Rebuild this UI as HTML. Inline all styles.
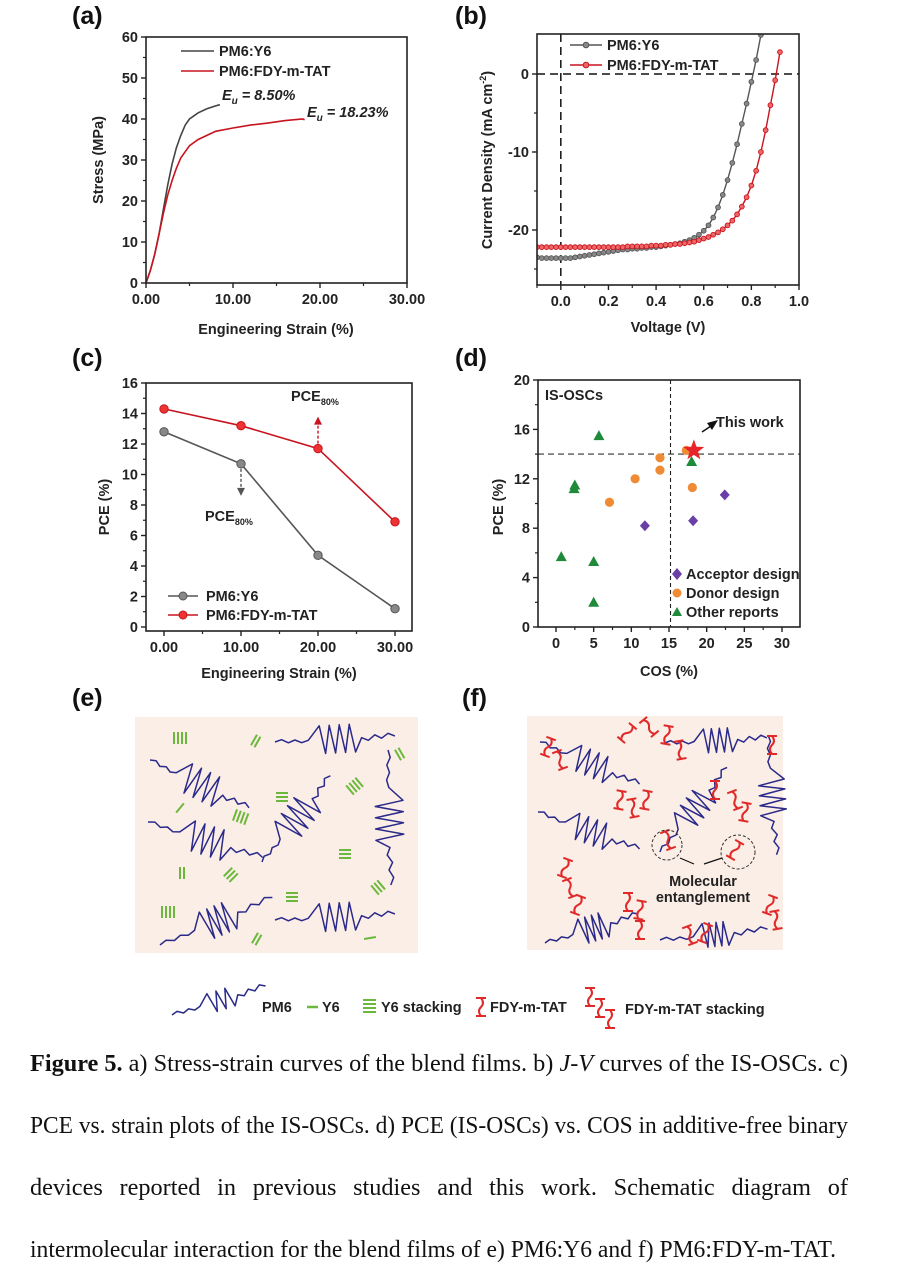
<!DOCTYPE html>
<html><head><meta charset="utf-8">
<style>
html,body{margin:0;padding:0;background:#fff;}
svg{display:block;font-family:"Liberation Sans",Arial,sans-serif;}
.tk{font-weight:bold;font-size:14.5px;fill:#222;}
.at{font-weight:bold;font-size:14.5px;fill:#222;}
.pl{font-weight:bold;font-size:25px;fill:#111;}
.cap{font-family:"Liberation Serif",serif;font-size:24px;fill:#111;}
</style></head>
<body>
<svg id="fig" width="915" height="1285" viewBox="0 0 915 1285" xmlns="http://www.w3.org/2000/svg">
<rect width="915" height="1285" fill="#fff"/>
</svg>
<script>
// ---------- DATA ----------
const aStrainY6 = [0,0.5,1,1.5,2,2.5,3,3.5,4,4.5,5,6,7,8,8.5];
const aStressY6 = [0,3,7,12,18,24,29,33,36,38.5,40,41.5,42.5,43.2,43.5];
const aStrainFDY = [0,0.5,1,1.5,2,2.5,3,3.5,4,5,6,7,8,10,12,14,16,18,18.23];
const aStressFDY = [0,3,7,12,17,21.5,25,28,30.5,33.5,35,36,37,37.8,38.5,39,39.6,40,39.8];
const aXTicks = ["0.00","10.00","20.00","30.00"];
const aYTicks = [0,10,20,30,40,50,60];
const bVY6 = [-0.10,-0.08,-0.06,-0.04,-0.02,0,0.02,0.04,0.06,0.08,0.10,0.12,0.14,0.16,0.18,0.20,0.22,0.24,0.26,0.28,0.30,0.32,0.34,0.36,0.38,0.40,0.42,0.44,0.46,0.48,0.50,0.52,0.54,0.56,0.58,0.60,0.62,0.64,0.66,0.68,0.70,0.72,0.74,0.76,0.78,0.80,0.82,0.84];
const bJY6 = [-23.5,-23.6,-23.6,-23.6,-23.6,-23.6,-23.6,-23.6,-23.5,-23.4,-23.3,-23.2,-23.1,-23.0,-22.9,-22.8,-22.7,-22.6,-22.5,-22.5,-22.4,-22.4,-22.3,-22.3,-22.2,-22.2,-22.1,-22.0,-21.9,-21.8,-21.7,-21.5,-21.3,-21.0,-20.6,-20.1,-19.4,-18.4,-17.1,-15.5,-13.6,-11.4,-9.0,-6.4,-3.8,-1.0,1.8,5.0];
const bVFDY = [-0.10,-0.08,-0.06,-0.04,-0.02,0,0.02,0.04,0.06,0.08,0.10,0.12,0.14,0.16,0.18,0.20,0.22,0.24,0.26,0.28,0.30,0.32,0.34,0.36,0.38,0.40,0.42,0.44,0.46,0.48,0.50,0.52,0.54,0.56,0.58,0.60,0.62,0.64,0.66,0.68,0.70,0.72,0.74,0.76,0.78,0.80,0.82,0.84,0.86,0.88,0.90,0.92];
const bJFDY = [-22.2,-22.2,-22.2,-22.2,-22.2,-22.2,-22.2,-22.2,-22.2,-22.2,-22.2,-22.2,-22.2,-22.2,-22.2,-22.2,-22.2,-22.2,-22.2,-22.1,-22.1,-22.1,-22.1,-22.1,-22.0,-22.0,-22.0,-21.9,-21.9,-21.8,-21.8,-21.7,-21.6,-21.5,-21.3,-21.1,-20.9,-20.6,-20.3,-19.9,-19.4,-18.8,-18.0,-17.0,-15.8,-14.3,-12.4,-10.0,-7.2,-4.0,-0.8,2.8];
const bXTicks = [0.0,0.2,0.4,0.6,0.8,1.0];
const bYTicks = [0,-10,-20];
const cStrain = [0,10,20,30];
const cPCEY6 = [12.8,10.7,4.7,1.2];
const cPCEFDY = [14.3,13.2,11.7,6.9];
const cYTicks = [0,2,4,6,8,10,12,14,16];
const cXTicks = ["0.00","10.00","20.00","30.00"];
const dAccCOS = [11.8,18.2,22.4];
const dAccPCE = [8.2,8.6,10.7];
const dDonCOS = [7.1,10.5,13.8,13.8,17.3,18.1];
const dDonPCE = [10.1,12.0,12.7,13.7,14.3,11.3];
const dOthCOS = [0.7,2.4,2.5,5,5,5.7,18];
const dOthPCE = [5.7,11.2,11.5,5.3,2.0,15.5,13.4];
const dThisCOS = [18.3];
const dThisPCE = [14.3];
const dXTicks = [0,5,10,15,20,25,30];
const dYTicks = [0,4,8,12,16,20];

// ---------- HELPERS ----------
const NS="http://www.w3.org/2000/svg";
const svg=document.getElementById('fig');
function mk(tag,attrs,parent){const e=document.createElementNS(NS,tag);for(const k in attrs)e.setAttribute(k,attrs[k]);(parent||svg).appendChild(e);return e;}
function txt(x,y,s,cls,extra,parent){const t=mk('text',Object.assign({x:x,y:y,class:cls},extra||{}),parent);t.textContent=s;return t;}
function lin(d0,d1,r0,r1){return v=>r0+(v-d0)/(d1-d0)*(r1-r0);}
function frame(g,b){
  const r=mk('rect',{x:b.x0,y:b.y0,width:b.x1-b.x0,height:b.y1-b.y0,fill:'none',stroke:'#222','stroke-width':1.6},g);
  
  
}
function xTicks(g,b,sx,vals,labels,minor){
  vals.forEach((v,i)=>{const x=sx(v);
    const t=mk('line',{x1:x,x2:x,y1:b.y1,y2:b.y1+5,stroke:'#222','stroke-width':1.4},g);
    
    
    const l=txt(x,b.y1+21,labels[i],'tk',{'text-anchor':'middle'},g);
    
    
  });
  (minor||[]).forEach(v=>{const x=sx(v);mk('line',{x1:x,x2:x,y1:b.y1,y2:b.y1+3,stroke:'#222','stroke-width':1.2},g);});
}
function yTicks(g,b,sy,vals,labels,minor){
  vals.forEach((v,i)=>{const y=sy(v);
    const t=mk('line',{x1:b.x0-5,x2:b.x0,y1:y,y2:y,stroke:'#222','stroke-width':1.4},g);
    
    
    const l=txt(b.x0-8,y+5,labels[i],'tk',{'text-anchor':'end'},g);
    
    
  });
  (minor||[]).forEach(v=>{const y=sy(v);mk('line',{x1:b.x0-3,x2:b.x0,y1:y,y2:y,stroke:'#222','stroke-width':1.2},g);});
}
function pathOf(xs,ys,sx,sy){return xs.map((v,i)=>(i?'L':'M')+sx(v).toFixed(1)+','+sy(ys[i]).toFixed(1)).join('');}

// ---------- PANEL A ----------
(function(){
  const g=mk('g',{});
  
  
  const b={x0:146,y0:37,x1:407,y1:283};
  const sx=lin(0,30,146,407), sy=lin(0,60,283,37);
  const pl=txt(72,24,'(a)','pl',{},g);
  
  
  xTicks(g,b,sx,[0,10,20,30],aXTicks,[5,15,25]);
  yTicks(g,b,sy,aYTicks,aYTicks.map(String),[5,15,25,35,45,55]);
  const p1=mk('path',{d:pathOf(aStrainY6,aStressY6,sx,sy),fill:'none',stroke:'#444','stroke-width':1.6},g);
  
  
  const p2=mk('path',{d:pathOf(aStrainFDY,aStressFDY,sx,sy),fill:'none',stroke:'#c8141e','stroke-width':1.6},g);
  
  
  frame(g,b);
  mk('line',{x1:181,x2:214,y1:51,y2:51,stroke:'#444','stroke-width':1.6},g);
  let l=txt(219,56,'PM6:Y6','tk',{},g);
  
  
  mk('line',{x1:181,x2:214,y1:71,y2:71,stroke:'#c8141e','stroke-width':1.6},g);
  l=txt(219,76,'PM6:FDY-m-TAT','tk',{},g);
  
  
  l=txt(222,100,'','tk',{'font-style':'italic',fill:'#666'},g);
  l.innerHTML='E<tspan font-size="10" dy="4">u</tspan><tspan dy="-4"> = 8.50%</tspan>';
  
  
  l=txt(307,117,'','tk',{'font-style':'italic',fill:'#c8141e'},g);
  l.innerHTML='E<tspan font-size="10" dy="4">u</tspan><tspan dy="-4"> = 18.23%</tspan>';
  
  
  l=txt(0,0,'Stress (MPa)','at',{transform:'translate(103,160) rotate(-90)','text-anchor':'middle'},g);
  
  
  l=txt(276,334,'Engineering Strain (%)','at',{'text-anchor':'middle'},g);
  
  
})();

// ---------- PANEL B ----------
(function(){
  const g=mk('g',{});
  
  
  const b={x0:537,y0:34,x1:799,y1:285};
  const sx=lin(-0.1,1.0,537,799), sy=lin(0,-20,74,230);
  const pl=txt(455,24,'(b)','pl',{},g);
  
  
  xTicks(g,b,sx,bXTicks,bXTicks.map(v=>v.toFixed(1)),[-0.1,0.1,0.3,0.5,0.7,0.9]);
  yTicks(g,b,sy,bYTicks,bYTicks.map(String),[-5,-15,-25]);
  mk('line',{x1:sx(0),x2:sx(0),y1:b.y0,y2:b.y1,stroke:'#111','stroke-width':1.5,'stroke-dasharray':'8,5'},g);
  mk('line',{x1:b.x0,x2:b.x1,y1:sy(0),y2:sy(0),stroke:'#111','stroke-width':1.5,'stroke-dasharray':'8,5'},g);
  const clip=mk('clipPath',{id:'clipb'},g);
  mk('rect',{x:b.x0,y:b.y0,width:b.x1-b.x0,height:b.y1-b.y0},clip);
  const cg=mk('g',{'clip-path':'url(#clipb)'},g);
  [[bVY6,bJY6,'#555','#888','pm6-y6'],[bVFDY,bJFDY,'#c8141e','#e66','pm6-fdy-m-tat']].forEach(s=>{
    const p=mk('path',{d:pathOf(s[0],s[1],sx,sy),fill:'none',stroke:s[2],'stroke-width':1.4},cg);
    
    
    s[0].forEach((v,i)=>{
      const c=mk('circle',{cx:sx(v),cy:sy(s[1][i]),r:2.4,fill:s[3],stroke:s[2],'stroke-width':0.9},cg);
      
      
    });
  });
  frame(g,b);
  mk('line',{x1:570,x2:602,y1:45,y2:45,stroke:'#555','stroke-width':1.5},g);
  mk('circle',{cx:586,cy:45,r:2.8,fill:'#888',stroke:'#555'},g);
  let l=txt(607,50,'PM6:Y6','tk',{},g);
  
  
  mk('line',{x1:570,x2:602,y1:65,y2:65,stroke:'#c8141e','stroke-width':1.5},g);
  mk('circle',{cx:586,cy:65,r:2.8,fill:'#e66',stroke:'#c8141e'},g);
  l=txt(607,70,'PM6:FDY-m-TAT','tk',{},g);
  
  
  l=txt(0,0,'','at',{transform:'translate(492,160) rotate(-90)','text-anchor':'middle'},g);
  l.innerHTML='Current Density (mA cm<tspan font-size="9" dy="-6">-2</tspan><tspan dy="6">)</tspan>';
  
  
  l=txt(668,332,'Voltage (V)','at',{'text-anchor':'middle'},g);
  
  
})();

// ---------- PANEL C ----------
(function(){
  const g=mk('g',{});
  
  
  const b={x0:146,y0:383,x1:412,y1:631};
  const sx=lin(0,30,164,395), sy=lin(0,16,627,383);
  const pl=txt(72,366,'(c)','pl',{},g);
  
  
  xTicks(g,b,sx,cStrain,cXTicks,[5,15,25]);
  yTicks(g,b,sy,cYTicks,cYTicks.map(String),[1,3,5,7,9,11,13,15]);
  [[cPCEY6,'#555','#888','pm6-y6'],[cPCEFDY,'#c8141e','#e33','pm6-fdy-m-tat']].forEach(s=>{
    const p=mk('path',{d:pathOf(cStrain,s[0],sx,sy),fill:'none',stroke:s[1],'stroke-width':1.6},g);
    
    
    cStrain.forEach((v,i)=>{
      const c=mk('circle',{cx:sx(v),cy:sy(s[0][i]),r:4.2,fill:s[2],stroke:s[1],'stroke-width':1},g);
      
      
    });
  });
  const ax1=sx(10), ax2=sx(20);
  mk('line',{x1:ax1,x2:ax1,y1:sy(cPCEY6[1])+5,y2:sy(cPCEY6[1])+26,stroke:'#555','stroke-width':1.4,'stroke-dasharray':'3,2'},g);
  mk('path',{d:`M${ax1-4},${sy(cPCEY6[1])+24}L${ax1+4},${sy(cPCEY6[1])+24}L${ax1},${sy(cPCEY6[1])+32}Z`,fill:'#555'},g);
  mk('line',{x1:ax2,x2:ax2,y1:sy(cPCEFDY[2])-5,y2:sy(cPCEFDY[2])-26,stroke:'#c8141e','stroke-width':1.4,'stroke-dasharray':'3,2'},g);
  mk('path',{d:`M${ax2-4},${sy(cPCEFDY[2])-24}L${ax2+4},${sy(cPCEFDY[2])-24}L${ax2},${sy(cPCEFDY[2])-32}Z`,fill:'#c8141e'},g);
  let l=txt(205,521,'','tk',{fill:'#666'},g);
  l.innerHTML='PCE<tspan font-size="9" dy="4">80%</tspan>';
  
  
  l=txt(291,401,'','tk',{fill:'#c8141e'},g);
  l.innerHTML='PCE<tspan font-size="9" dy="4">80%</tspan>';
  
  
  frame(g,b);
  mk('line',{x1:168,x2:198,y1:596,y2:596,stroke:'#555','stroke-width':1.6},g);
  mk('circle',{cx:183,cy:596,r:4,fill:'#888',stroke:'#555'},g);
  l=txt(206,601,'PM6:Y6','tk',{},g);
  
  
  mk('line',{x1:168,x2:198,y1:615,y2:615,stroke:'#c8141e','stroke-width':1.6},g);
  mk('circle',{cx:183,cy:615,r:4,fill:'#e33',stroke:'#c8141e'},g);
  l=txt(206,620,'PM6:FDY-m-TAT','tk',{},g);
  
  
  l=txt(0,0,'PCE (%)','at',{transform:'translate(109,507) rotate(-90)','text-anchor':'middle'},g);
  
  
  l=txt(279,678,'Engineering Strain (%)','at',{'text-anchor':'middle'},g);
  
  
})();

// ---------- PANEL D ----------
(function(){
  const g=mk('g',{});
  
  
  const b={x0:538,y0:380,x1:800,y1:627};
  const sx=lin(0,30,556,782), sy=lin(0,20,627,380);
  const pl=txt(455,366,'(d)','pl',{},g);
  
  
  xTicks(g,b,sx,dXTicks,dXTicks.map(String),[2.5,7.5,12.5,17.5,22.5,27.5]);
  yTicks(g,b,sy,dYTicks,dYTicks.map(String),[2,6,10,14,18]);
  mk('line',{x1:sx(15.2),x2:sx(15.2),y1:b.y0,y2:b.y1,stroke:'#222','stroke-width':1.1,'stroke-dasharray':'4,3'},g);
  mk('line',{x1:b.x0,x2:b.x1,y1:sy(14),y2:sy(14),stroke:'#333','stroke-width':1.1,'stroke-dasharray':'6,4'},g);
  dDonCOS.forEach((v,i)=>{
    const c=mk('circle',{cx:sx(v),cy:sy(dDonPCE[i]),r:4.6,fill:'#ef8a35'},g);
    
    
  });
  dAccCOS.forEach((v,i)=>{
    const x=sx(v),y=sy(dAccPCE[i]);
    const c=mk('path',{d:`M${x},${y-5.5}L${x+5},${y}L${x},${y+5.5}L${x-5},${y}Z`,fill:'#6a3fa8'},g);
    
    
  });
  dOthCOS.forEach((v,i)=>{
    const x=sx(v),y=sy(dOthPCE[i]);
    const c=mk('path',{d:`M${x},${y-5.5}L${x+5.5},${y+4.5}L${x-5.5},${y+4.5}Z`,fill:'#1e8a3a'},g);
    
    
  });
  dThisCOS.forEach((v,i)=>{
    const x=sx(v),y=sy(dThisPCE[i]);let d='';
    for(let k=0;k<10;k++){const r=k%2?4.5:11;const a=-Math.PI/2+k*Math.PI/5;d+=(k?'L':'M')+(x+r*Math.cos(a)).toFixed(1)+','+(y+r*Math.sin(a)).toFixed(1);}
    const s=mk('path',{d:d+'Z',fill:'#e8232a'},g);
    
    
  });
  mk('line',{x1:702,x2:711,y1:432,y2:426,stroke:'#111','stroke-width':1.5},g);
  mk('path',{d:'M718,420L707,423L712,430Z',fill:'#111'},g);
  let l=txt(716,427,'This work','tk',{},g);
  
  
  l=txt(545,400,'IS-OSCs','tk',{},g);
  
  
  mk('path',{d:'M677,568L682,574L677,580L672,574Z',fill:'#6a3fa8'},g);
  l=txt(686,579,'Acceptor design','tk',{'font-size':'13.5'},g);
  
  
  mk('circle',{cx:677,cy:593,r:4.5,fill:'#ef8a35'},g);
  l=txt(686,598,'Donor design','tk',{'font-size':'13.5'},g);
  
  
  mk('path',{d:'M677,607L682,616L672,616Z',fill:'#1e8a3a'},g);
  l=txt(686,617,'Other reports','tk',{'font-size':'13.5'},g);
  
  
  frame(g,b);
  l=txt(0,0,'PCE (%)','at',{transform:'translate(503,507) rotate(-90)','text-anchor':'middle'},g);
  
  
  l=txt(669,676,'COS (%)','at',{'text-anchor':'middle'},g);
  
  
})();

// ---------- SCHEMATICS E/F ----------
function chain(g,x,y,ang,n,w,amp,tail){
  const pts=[];let t=0;
  const wig=[0,-2,1.5,-1,2,0];
  for(let i=0;i<wig.length;i++){pts.push([t,wig[i]]);t+=tail/wig.length;}
  for(let i=0;i<n*2;i++){t+=w/(n*2);pts.push([t,i%2?amp:-amp]);}
  for(let i=0;i<wig.length;i++){t+=tail/wig.length;pts.push([t,-wig[i]*1.5]);}
  const c=Math.cos(ang),s=Math.sin(ang);
  const d=pts.map((p,i)=>(i?'L':'M')+(x+p[0]*c-p[1]*s).toFixed(1)+','+(y+p[0]*s+p[1]*c).toFixed(1)).join('');
  const p=mk('path',{d:d,fill:'none',stroke:'#2a2a8a','stroke-width':1.5,'stroke-linejoin':'round'},g);
  
  
}
function y6(g,x,y,n,ang){
  const gg=mk('g',{transform:`translate(${x},${y}) rotate(${ang})`},g);
  
  
  for(let i=0;i<n;i++)mk('line',{x1:i*4,x2:i*4,y1:-6,y2:6,stroke:'#6cb83c','stroke-width':2},gg);
}
function fdy(g,x,y,ang){
  const gg=mk('g',{transform:`translate(${x},${y}) rotate(${ang})`},g);
  
  
  mk('path',{d:'M-5,-9L5,-9M0,-9Q4,-4 0,0Q-4,4 0,9M-5,9L5,9',fill:'none',stroke:'#e02a2a','stroke-width':2},gg);
}
(function(){
  const g=mk('g',{});
  
  
  const pl=txt(72,706,'(e)','pl',{},g);
  
  
  mk('rect',{x:135,y:717,width:283,height:236,fill:'#fbeee6'},g);
  chain(g,150,760,0.45,4,40,15,35);
  chain(g,275,742,-0.05,4,40,14,40);
  chain(g,388,750,1.55,4,45,14,45);
  chain(g,148,822,0.3,4,40,15,40);
  chain(g,262,862,-0.9,4,40,15,35);
  chain(g,160,945,-0.4,4,32,15,45);
  chain(g,275,920,-0.05,4,40,14,40);
  [[174,738,4,0],[254,740,2,30],[398,755,2,-30],[180,808,1,40],[235,815,4,20],[282,793,3,90],[350,790,4,-40],[345,850,3,90],[180,873,2,0],[228,872,3,45],[292,893,3,90],[375,890,3,-40],[162,912,4,0],[255,938,2,30],[370,938,1,80]].forEach(a=>y6(g,a[0],a[1],a[2],a[3]));
})();
(function(){
  const g=mk('g',{});
  
  
  const pl=txt(462,706,'(f)','pl',{},g);
  
  
  mk('rect',{x:527,y:716,width:256,height:234,fill:'#fbeee6'},g);
  chain(g,540,742,0.4,4,38,13,35);
  chain(g,665,743,-0.05,4,32,12,35);
  chain(g,768,735,1.5,4,40,13,40);
  chain(g,538,812,0.35,4,38,13,35);
  chain(g,660,852,-0.9,4,38,13,35);
  chain(g,545,943,-0.3,4,28,13,35);
  chain(g,660,940,-0.1,4,28,12,40);
  [[548,747,20],[560,760,-20],[627,733,40],[649,727,-40],[667,735,10],[680,750,-10],[772,745,0],[620,800,10],[633,808,-10],[646,800,10],[715,790,0],[735,800,-20],[745,812,10],[668,840,-20],[735,850,30],[565,868,20],[570,888,-20],[578,905,20],[628,902,0],[640,910,10],[690,935,-20],[705,933,20],[770,905,20],[776,920,-10],[640,930,0]].forEach(a=>fdy(g,a[0],a[1],a[2]));
  mk('circle',{cx:667,cy:845,r:15,fill:'none',stroke:'#333','stroke-width':1,'stroke-dasharray':'3,2'},g);
  mk('circle',{cx:738,cy:852,r:17,fill:'none',stroke:'#333','stroke-width':1,'stroke-dasharray':'3,2'},g);
  mk('path',{d:'M694,864L680,858M704,864L722,858',stroke:'#111','stroke-width':1.2},g);
  let l=txt(703,886,'Molecular','tk',{'font-size':'13','text-anchor':'middle'},g);
  
  
  l=txt(703,902,'entanglement','tk',{'font-size':'13','text-anchor':'middle'},g);
  
  
})();
(function(){
  const g=mk('g',{});
  
  
  chain(g,172,1015,-0.3,3,28,10,35);
  let l=txt(262,1012,'PM6','tk',{'font-size':'13'},g);
  
  
  mk('line',{x1:307,x2:318,y1:1007,y2:1007,stroke:'#6cb83c','stroke-width':2.5},g);
  l=txt(322,1012,'Y6','tk',{'font-size':'13'},g);
  
  
  for(let i=0;i<4;i++)mk('line',{x1:363,x2:376,y1:1000+i*4,y2:1000+i*4,stroke:'#6cb83c','stroke-width':2},g);
  l=txt(381,1012,'Y6 stacking','tk',{'font-size':'13'},g);
  
  
  fdy(g,481,1007,0);
  l=txt(490,1012,'FDY-m-TAT','tk',{'font-size':'13'},g);
  
  
  fdy(g,590,997,0);fdy(g,600,1008,0);fdy(g,610,1019,0);
  l=txt(625,1014,'FDY-m-TAT stacking','tk',{'font-size':'13'},g);
  
  
})();
// caption
(function(){
  const g=mk('g',{});
  
  
  // measure natural width of line 1 to get condense factor
  const probe=mk('text',{x:0,y:-100,class:'cap'},g);
  probe.innerHTML='<tspan font-weight="bold">Figure 5.</tspan> a) Stress-strain curves of the blend films. b) <tspan font-style="italic">J-V</tspan> curves of the IS-OSCs. c)';
  const nat1=probe.getComputedTextLength()||900;
  g.removeChild(probe);
  const k=818/nat1;
  const lines=[
   ['<tspan font-weight="bold">Figure 5.</tspan> a) Stress-strain curves of the blend films. b) <tspan font-style="italic">J-V</tspan> curves of the IS-OSCs. c)',818],
   ['PCE vs. strain plots of the IS-OSCs. d) PCE (IS-OSCs) vs. COS in additive-free binary',818],
   null,
   ['intermolecular interaction for the blend films of e) PM6:Y6 and f) PM6:FDY-m-TAT.',806]];
  lines.forEach((ln,i)=>{
    if(!ln)return;
    const t=mk('text',{x:30,y:1071+i*62,class:'cap',textLength:ln[1],lengthAdjust:'spacingAndGlyphs'},g);
    t.innerHTML=ln[0];
    
    
  });
  const words=['devices','reported','in','previous','studies','and','this','work.','Schematic','diagram','of'];
  const els=[];let total=0;
  words.forEach(w=>{
    const t=mk('text',{x:0,y:1071+2*62,class:'cap'},g);
    t.textContent=w;
    
    
    const wd=(t.getComputedTextLength()||w.length*10)*k;
    t.setAttribute('textLength',wd.toFixed(1));
    t.setAttribute('lengthAdjust','spacingAndGlyphs');
    els.push([t,wd]);total+=wd;
  });
  const gap=(818-total)/(words.length-1);
  let x=30;
  els.forEach(e=>{e[0].setAttribute('x',x.toFixed(1));x+=e[1]+gap;});
})();
</script>
</body></html>
